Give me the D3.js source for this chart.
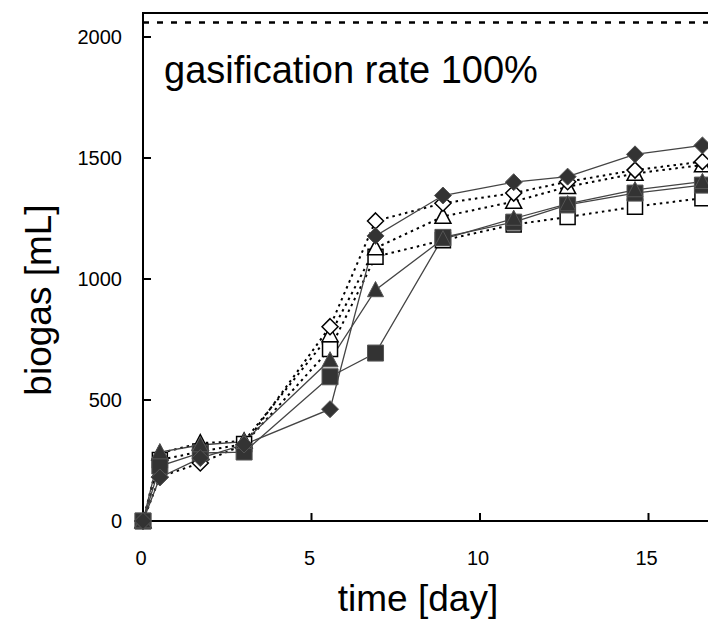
<!DOCTYPE html>
<html>
<head>
<meta charset="utf-8">
<script src="https://cdn.jsdelivr.net/npm/d3@7"></script>
<style>
  body { margin: 0; background: #fff; }
  svg { display: block; font-family: "Liberation Sans", Arial, sans-serif; }
</style>
</head>
<body>
<svg id="chart"></svg>
<script>
const width = 708, height = 621;

// sampling days
const days = [0, 0.5, 1.7, 3.0, 5.55, 6.9, 8.9, 11.0, 12.6, 14.6, 16.6];

// biogas [mL] per run
const filledDiamond  = [0, 180, 260, 316, 462, 1178, 1345, 1400, 1423, 1515, 1552];
const filledTriangle = [0, 285, 314, 328, 665, 955, 1165, 1250, 1310, 1368, 1402];
const filledSquare   = [0, 227, 281, 285, 596, 694, 1172, 1235, 1306, 1355, 1388];
const openDiamond    = [0, 182, 240, 315, 803, 1240, 1313, 1355, 1402, 1450, 1485];
const openTriangle   = [0, 280, 322, 330, 769, 1128, 1258, 1320, 1381, 1436, 1471];
const openSquare     = [0, 252, 287, 318, 711, 1092, 1160, 1225, 1256, 1299, 1334];

const theoretical = 2060;
const xTicks = [0, 5, 10, 15];
const yTicks = [0, 500, 1000, 1500, 2000];

const x = d3.scaleLinear().domain([0, 20]).range([143, 143 + 20 * 33.7]);
const y = d3.scaleLinear().domain([0, 2000]).range([521, 37]);

const svg = d3.select("#chart")
    .attr("width", width)
    .attr("height", height);

// custom marker shapes (size = half width)
const squareShape = {
    draw(ctx, s) {
        ctx.moveTo(-s, -s); ctx.lineTo(s, -s); ctx.lineTo(s, s); ctx.lineTo(-s, s); ctx.closePath();
    }
};
const diamondShape = {
    draw(ctx, s) {
        ctx.moveTo(0, -s); ctx.lineTo(s, 0); ctx.lineTo(0, s); ctx.lineTo(-s, 0); ctx.closePath();
    }
};
const triangleShape = {
    draw(ctx, s) {
        ctx.moveTo(0, -s * 1.05); ctx.lineTo(s, s * 0.85); ctx.lineTo(-s, s * 0.85); ctx.closePath();
    }
};

const series = [
    { values: openSquare, shape: squareShape, r: 7.5, filled: false },
    { values: openTriangle, shape: triangleShape, r: 8, filled: false },
    { values: openDiamond, shape: diamondShape, r: 8, filled: false },
    { values: filledSquare, shape: squareShape, r: 8, filled: true },
    { values: filledTriangle, shape: triangleShape, r: 8, filled: true },
    { values: filledDiamond, shape: diamondShape, r: 8.5, filled: true }
];

// frame
svg.append("rect")
    .attr("x", x(0))
    .attr("y", 13)
    .attr("width", x(20) - x(0))
    .attr("height", y(0) - 13)
    .attr("fill", "none")
    .attr("stroke", "#000")
    .attr("stroke-width", 2);

// 100% gasification line
svg.append("line")
    .attr("x1", x(0)).attr("x2", x(20))
    .attr("y1", y(theoretical)).attr("y2", y(theoretical))
    .attr("stroke", "#000")
    .attr("stroke-width", 2.5)
    .attr("stroke-dasharray", "6,8");

// ticks, pointing inward
svg.selectAll(".ytick").data(yTicks).join("line")
    .attr("x1", x(0)).attr("x2", x(0) + 8)
    .attr("y1", d => y(d)).attr("y2", d => y(d))
    .attr("stroke", "#000").attr("stroke-width", 2);

svg.selectAll(".xtick").data(xTicks.filter(d => d > 0)).join("line")
    .attr("x1", d => x(d)).attr("x2", d => x(d))
    .attr("y1", y(0)).attr("y2", y(0) - 8)
    .attr("stroke", "#000").attr("stroke-width", 2);

svg.selectAll(".ylab").data(yTicks).join("text")
    .attr("x", 122)
    .attr("y", d => y(d) + 7)
    .attr("text-anchor", "end")
    .attr("font-size", 20)
    .text(d => d);

svg.selectAll(".xlab").data(xTicks).join("text")
    .attr("x", d => x(d) - 2)
    .attr("y", 565)
    .attr("text-anchor", "middle")
    .attr("font-size", 20)
    .text(d => d);

// titles
svg.append("text")
    .attr("x", 418).attr("y", 611)
    .attr("text-anchor", "middle")
    .attr("font-size", 37)
    .text("time [day]");

svg.append("text")
    .attr("transform", "translate(51,300) rotate(-90)")
    .attr("text-anchor", "middle")
    .attr("font-size", 37)
    .text("biogas [mL]");

svg.append("text")
    .attr("x", 164).attr("y", 83)
    .attr("font-size", 38)
    .text("gasification rate 100%");

// lines
const line = d3.line()
    .x((d, i) => x(days[i]))
    .y(d => y(d));

svg.selectAll(".run-line").data(series).join("path")
    .attr("d", d => line(d.values))
    .attr("fill", "none")
    .attr("stroke", d => d.filled ? "#444" : "#000")
    .attr("stroke-width", d => d.filled ? 1.3 : 2)
    .attr("stroke-dasharray", d => d.filled ? null : "2.5,4");

// markers
series.forEach(s => {
    const sym = d3.symbol().type(s.shape).size(s.r);
    svg.append("g").selectAll("path").data(s.values).join("path")
        .attr("transform", (d, i) => `translate(${x(days[i])},${y(d)})`)
        .attr("d", sym)
        .attr("fill", s.filled ? "#333" : "#fff")
        .attr("stroke", s.filled ? "#555" : "#000")
        .attr("stroke-width", s.filled ? 1 : 1.5);
});
</script>
</body>
</html>
